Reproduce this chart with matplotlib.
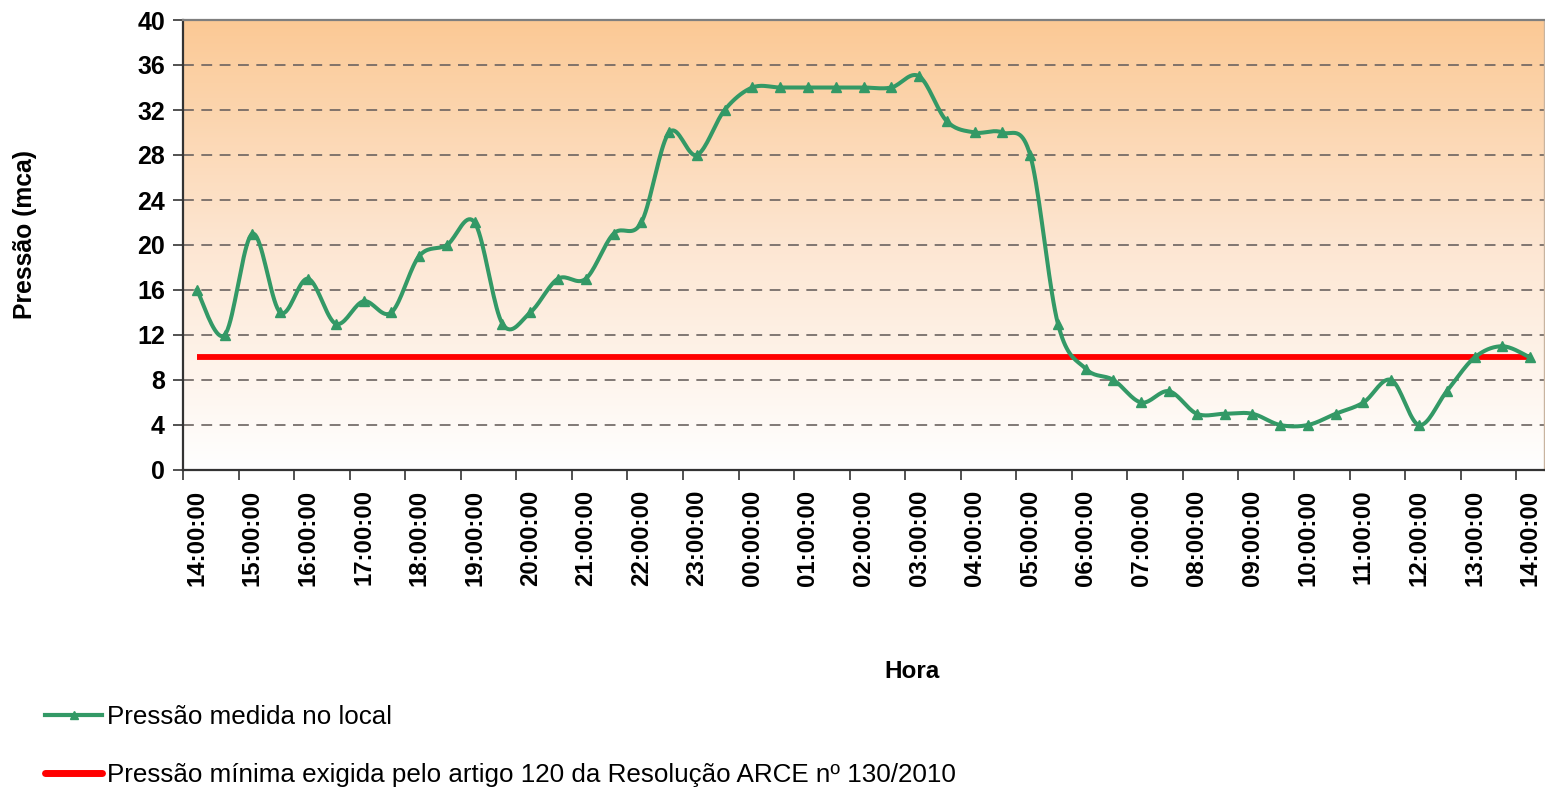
import matplotlib
matplotlib.use("Agg")
import matplotlib.pyplot as plt
import numpy as np
from matplotlib.colors import LinearSegmentedColormap
from matplotlib.lines import Line2D

plt.rcParams["font.family"] = ["Liberation Sans", "DejaVu Sans"]

# Data: readings every 30 minutes, 14:00 to 14:00 the next day
hours = ["14", "15", "16", "17", "18", "19", "20", "21", "22", "23", "00", "01",
         "02", "03", "04", "05", "06", "07", "08", "09", "10", "11", "12", "13", "14"]
tick_labels = [h + ":00:00" for h in hours]
pressao = [16, 12, 21, 14, 17, 13, 15, 14, 19, 20, 22, 13, 14, 17, 17, 21, 22,
           30, 28, 32, 34, 34, 34, 34, 34, 34, 35, 31, 30, 30, 28, 13, 9, 8,
           6, 7, 5, 5, 5, 4, 4, 5, 6, 8, 4, 7, 10, 11, 10]
pressao_minima = [10] * len(pressao)

label_medida = "Pressão medida no local"
label_minima = "Pressão mínima exigida pelo artigo 120 da Resolução ARCE nº 130/2010"

green = "#339966"


def smooth(x, y, n=20):
    # Excel-like smoothed line (Catmull-Rom as cubic Bezier)
    x = np.asarray(x, float)
    y = np.asarray(y, float)
    px = np.concatenate([[x[0]], x, [x[-1]]])
    py = np.concatenate([[y[0]], y, [y[-1]]])
    t = np.linspace(0, 1, n)[:, None]
    xs, ys = [], []
    for i in range(len(x) - 1):
        p0 = np.array([px[i + 1], py[i + 1]])
        p3 = np.array([px[i + 2], py[i + 2]])
        c1 = p0 + (p3 - np.array([px[i], py[i]])) / 6
        c2 = p3 - (np.array([px[i + 3], py[i + 3]]) - p0) / 6
        b = ((1 - t) ** 3) * p0 + 3 * ((1 - t) ** 2) * t * c1 + 3 * (1 - t) * t ** 2 * c2 + t ** 3 * p3
        xs.append(b[:, 0])
        ys.append(b[:, 1])
    return np.concatenate(xs), np.concatenate(ys)


fig = plt.figure(figsize=(15.45, 7.89), dpi=100)
ax = fig.add_axes([183 / 1545, 1 - 470 / 789, (1544 - 183) / 1545, 450 / 789])

x = np.arange(len(pressao))

# gradient background
cmap = LinearSegmentedColormap.from_list("bg", ["#FFFFFF", "#FDE6D2", "#FBC995"])
grad = np.linspace(0, 1, 256)[:, None]
ax.imshow(grad, extent=[-0.5, len(pressao) - 0.5, 0, 40], origin="lower",
          aspect="auto", cmap=cmap, zorder=0)

for v in range(4, 40, 4):
    ax.axhline(v, color="#6b6360", lw=1.2, dashes=(6.5, 4.5), zorder=1)

sx, sy = smooth(x, pressao)
ax.plot(x, pressao_minima, color="#FF0000", lw=4.2, solid_capstyle="butt", zorder=2)
ax.plot(sx, sy, color=green, lw=2.9, zorder=3)
ax.plot(x, pressao, ls="none", marker="^", ms=7.5, color=green, zorder=4)

ax.set_xlim(-0.5, len(pressao) - 0.5)
ax.set_ylim(0, 40)
ax.set_yticks(range(0, 41, 4))
ax.set_xticks(np.arange(-0.5, len(pressao) - 1, 2))
ax.set_xticklabels([])
ax.set_xticks(np.arange(0, len(pressao), 2), minor=True)
ax.set_xticklabels(tick_labels, minor=True, rotation=90, fontsize=17.3, fontweight="bold")
ax.tick_params(axis="x", which="minor", length=0, pad=14)
ax.tick_params(axis="x", which="major", length=7, width=1.2, color="#333333")
ax.tick_params(axis="y", length=7, width=1.2, color="#333333", pad=6,
               labelsize=18)
for lab in ax.get_yticklabels():
    lab.set_fontweight("bold")

for side in ["left", "bottom"]:
    ax.spines[side].set_color("#333333")
    ax.spines[side].set_linewidth(1.6)
ax.spines["top"].set_color("#7f7f7f")
ax.spines["top"].set_linewidth(1.6)
ax.spines["right"].set_color("#c8b4a0")
ax.spines["right"].set_linewidth(1.0)

fig.text(25 / 1545, 1 - 235 / 789, "Pressão (mca)", rotation=90, ha="center",
         va="center", fontsize=17.8, fontweight="bold")
fig.text(912 / 1545, 1 - 671 / 789, "Hora", ha="center", va="center",
         fontsize=17.5, fontweight="bold")

handles = [
    Line2D([], [], color=green, lw=3, marker="^", ms=6, markevery=[1]),
    Line2D([], [], color="#FF0000", lw=5, solid_capstyle="round"),
]
fig.legend(handles, [label_medida, label_minima], loc="upper left",
           bbox_to_anchor=(45 / 1545, 1 - 705 / 789), frameon=False,
           fontsize=18.7, handlelength=2.2, handletextpad=0.2, labelspacing=1.3,
           borderaxespad=0, borderpad=0)

fig.savefig("out.png", dpi=100)
